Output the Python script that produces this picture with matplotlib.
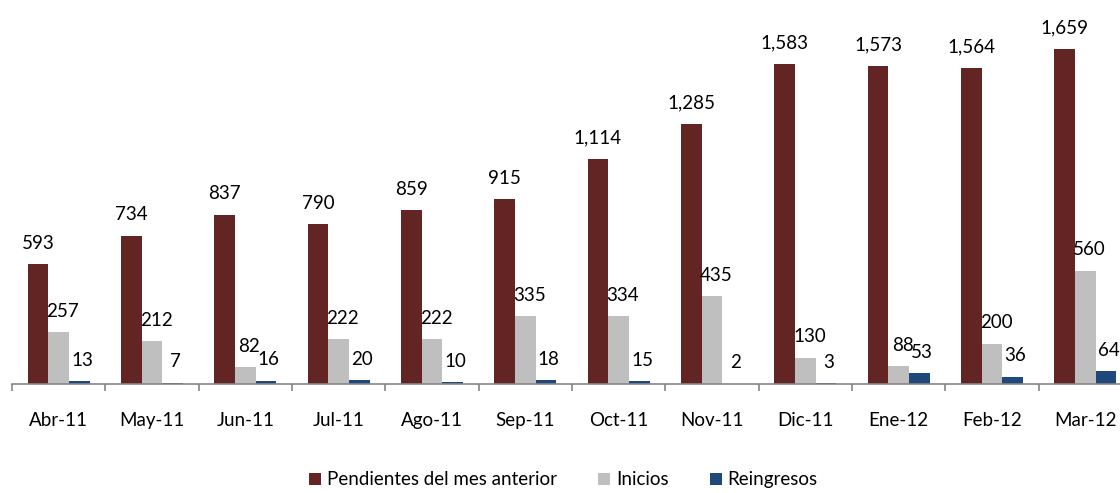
import numpy as np
import matplotlib.pyplot as plt
from matplotlib.ticker import FixedLocator

plt.rcParams['font.family'] = ['Lato', 'DejaVu Sans']

# ==== DATOS ====
meses = ["Abr-11", "May-11", "Jun-11", "Jul-11", "Ago-11", "Sep-11",
         "Oct-11", "Nov-11", "Dic-11", "Ene-12", "Feb-12", "Mar-12"]
pendientes = [593, 734, 837, 790, 859, 915, 1114, 1285, 1583, 1573, 1564, 1659]
inicios = [257, 212, 82, 222, 222, 335, 334, 435, 130, 88, 200, 560]
reingresos = [13, 7, 16, 20, 10, 18, 15, 2, 3, 53, 36, 64]

series = [
    ("Pendientes del mes anterior", pendientes, "#632523"),
    ("Inicios", inicios, "#BFBFBF"),
    ("Reingresos", reingresos, "#1F497D"),
]

# ==== FIGURA ====
fig = plt.figure(figsize=(11.2, 4.93), dpi=100)
# el eje se sale por la derecha, como en el original
ax = fig.add_axes([12 / 1120, 109 / 493, 1120 / 1120, 364 / 493])

x = np.arange(len(meses))
ancho = 0.222
# desplazamiento horizontal de las etiquetas (pt) por serie
dx_etq = [0, 3, 2]

for i, (nombre, valores, color) in enumerate(series):
    pos = x + (i - 1) * ancho
    ax.bar(pos, valores, width=ancho, color=color, label=nombre, zorder=2)
    for px, v in zip(pos, valores):
        ax.annotate(f"{v:,}", (px, v), xytext=(dx_etq[i], 15),
                    textcoords="offset points", ha="center", va="center",
                    fontsize=13.5, color="black")

ax.set_xlim(-0.5, len(meses) - 0.5)
ax.set_ylim(0, 1800)

for s in ["top", "right", "left"]:
    ax.spines[s].set_visible(False)
ax.spines["bottom"].set_color("#868686")
ax.spines["bottom"].set_linewidth(1.2)

ax.set_yticks([])
ax.set_xticks(x)
ax.set_xticklabels(meses, fontsize=13.5)
ax.tick_params(axis="x", which="major", length=0, pad=20)
ax.xaxis.set_minor_locator(FixedLocator(np.arange(-0.5, len(meses), 1.0)))
ax.tick_params(axis="x", which="minor", length=5, width=1.2, color="#868686",
               direction="out")

fig.legend(loc="lower center", bbox_to_anchor=(0.503, -0.025), ncol=3,
           frameon=False, fontsize=13.5, handlelength=0.65, handleheight=0.65,
           handletextpad=0.3, columnspacing=2.2)

fig.savefig("out.png", dpi=100)
